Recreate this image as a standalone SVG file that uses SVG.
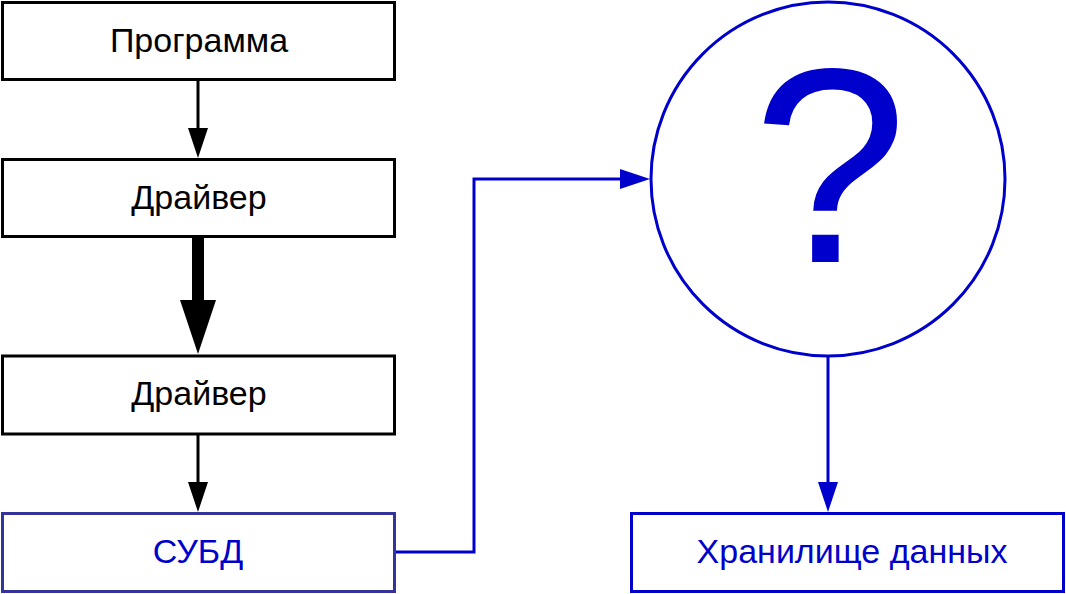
<svg xmlns="http://www.w3.org/2000/svg" width="1066" height="594" viewBox="0 0 1066 594">
<defs>
<style>
.box{fill:#fff;stroke:#000;stroke-width:3}
.bbox{fill:#fff;stroke:#333399;stroke-width:3}
.blbox{fill:#fff;stroke:#0000cc;stroke-width:3}
.t{font-family:"Liberation Sans",Arial,sans-serif;font-size:34px;text-anchor:middle;fill:#000}
.tb{fill:#0000cc}
.c{fill:none;stroke:#000;stroke-width:3}
.cb{fill:none;stroke:#0000cc;stroke-width:3}
</style>
</defs>
<g id="connectors">
<line class="c" x1="198" y1="80" x2="198" y2="130"/>
<path d="M188,128 L208,128 L198,158 Z" fill="#000"/>
<rect x="192" y="238" width="12" height="64" fill="#000"/>
<path d="M180,300 L216,300 L198,354 Z" fill="#000"/>
<line class="c" x1="198" y1="435" x2="198" y2="484"/>
<path d="M188,482 L208,482 L198,512 Z" fill="#000"/>
<polyline class="cb" points="396,552 474,552 474,179 622,179"/>
<path d="M620,169 L650,179 L620,189 Z" fill="#0000cc"/>
<line class="cb" x1="828" y1="356" x2="828" y2="484"/>
<path d="M818,482 L838,482 L828,512 Z" fill="#0000cc"/>
</g>
<g id="programma"><rect class="box" x="2.5" y="2.5" width="392" height="77"/><text class="t" x="199" y="52">Программа</text></g>
<g id="driver1"><rect class="box" x="2.5" y="159.5" width="392" height="77"/><text class="t" x="199" y="209">Драйвер</text></g>
<g id="driver2"><rect class="box" x="2.5" y="356" width="392" height="78"/><text class="t" x="199" y="405">Драйвер</text></g>
<g id="subd"><rect class="bbox" x="2.5" y="513.5" width="392" height="78"/><text class="t tb" x="198" y="563">СУБД</text></g>
<g id="unknown"><circle cx="828" cy="179" r="177" fill="#fff" stroke="#0000cc" stroke-width="3"/><text x="830" y="262" style="font-family:'Liberation Sans',Arial,sans-serif;font-size:278px;text-anchor:middle;fill:#0000cc">?</text></g>
<g id="storage"><rect class="blbox" x="631.5" y="513.5" width="432" height="78"/><text class="t tb" x="852" y="563">Хранилище данных</text></g>
</svg>
